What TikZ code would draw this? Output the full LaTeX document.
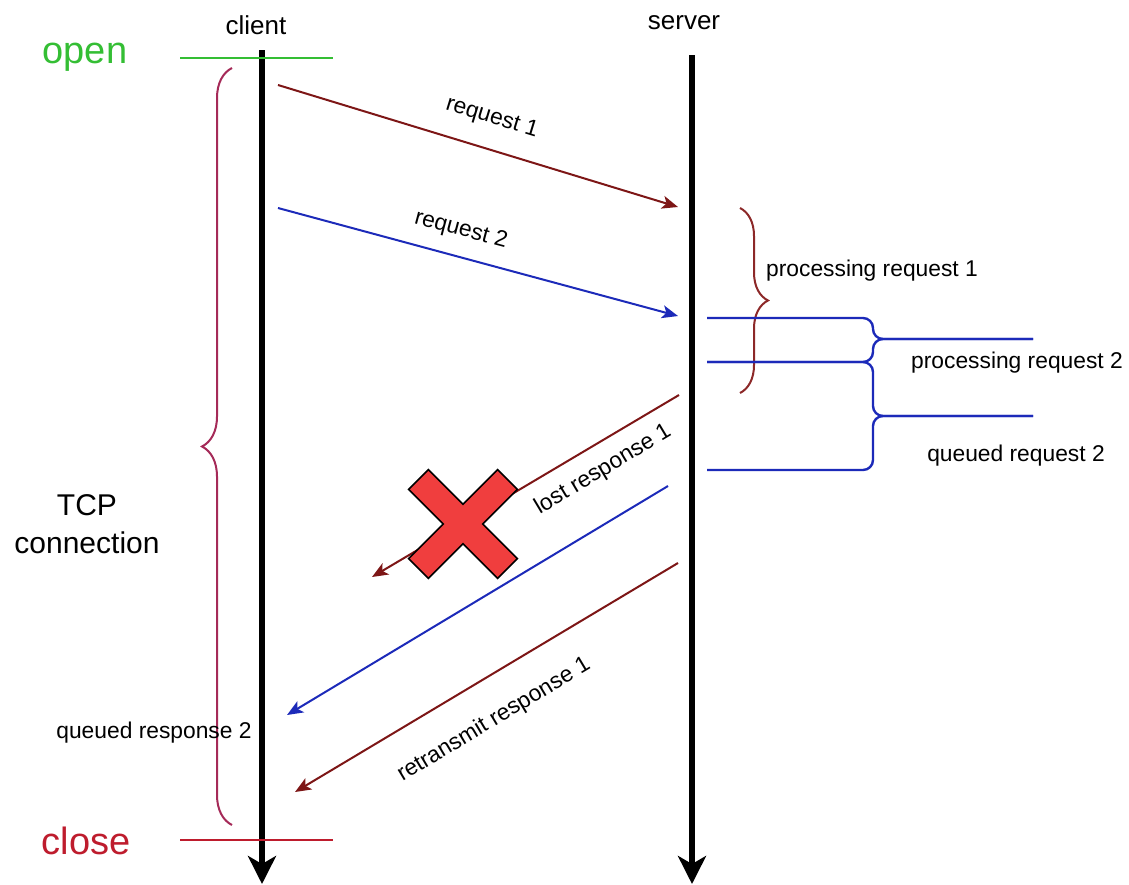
\documentclass[tikz,border=0pt]{standalone}
\usepackage{fontspec}
\setmainfont{Liberation Sans}
\usepackage{xcolor}
\usetikzlibrary{arrows.meta,decorations.pathreplacing}
\definecolor{msgred}{RGB}{125, 22, 22}
\definecolor{msgblue}{RGB}{28, 42, 185}
\definecolor{conncrimson}{RGB}{165, 42, 88}
\definecolor{procbrown}{RGB}{140, 40, 40}
\definecolor{opengreen}{RGB}{52, 190, 52}
\definecolor{closered}{RGB}{190, 28, 45}
\definecolor{lossred}{RGB}{240, 62, 62}

\begin{document}
\begin{tikzpicture}[x=0.5pt, y=-0.5pt,
    lifeline/.style={line width=3pt, -{Stealth[length=14pt, width=14pt, inset=4pt]}},
    title/.style={font=\fontsize{13}{15}\selectfont, inner sep=0pt},
    msglabel/.style={font=\fontsize{11.4}{13}\selectfont, inner sep=0pt},
    bigword/.style={font=\fontsize{19}{22}\selectfont, inner sep=0pt},
    request/.style={line width=1pt, -{Stealth[length=8pt, width=6.5pt, inset=2pt]}},
    limit/.style={line width=1.1pt},
    connbrace/.style={draw=conncrimson, line width=1pt, decorate, decoration={brace, amplitude=15pt}},
    procbrace/.style={draw=procbrown, line width=1pt, decorate, decoration={brace, amplitude=14pt}},
    queuebrace/.style={draw=msgblue, line width=1.2pt, rounded corners=5pt},
    lossx/.style={fill=lossred, draw=black, line width=0.8pt}
]
\useasboundingbox (0,0) rectangle (1129,884);

% Lifelines
\node[title] (client) at (256,25) {client};
\node[title] (server) at (684,23) {server};
\coordinate (ctop) at (262,50);
\coordinate (cbot) at (262,884);
\coordinate (stop) at (692,55);
\coordinate (sbot) at (692,884);
\draw[lifeline] (ctop) -- (cbot);
\draw[lifeline] (stop) -- (sbot);

% Connection open / close
\node[bigword, text=opengreen] (open) at (85,57) {open};
\node[bigword, text=closered] (close) at (86,841) {close};
\coordinate (openl) at (180,58);
\coordinate (openr) at (333,58);
\coordinate (closel) at (180,840);
\coordinate (closer) at (333,840);
\draw[limit, opengreen] (openl) -- (openr);
\draw[limit, closered] (closel) -- (closer);
\draw[connbrace] (232,825) -- (232,68);
\node[font=\fontsize{15}{19}\selectfont, align=center, inner sep=0pt] (tcp) at (87,524) {TCP\\connection};

% Requests
\coordinate (r1s) at (278,85);
\coordinate (r1e) at (678,207);
\coordinate (r2s) at (278,208);
\coordinate (r2e) at (678,316);
\draw[request, msgred] (r1s) -- (r1e);
\draw[request, msgblue] (r2s) -- (r2e);
\node[msglabel, rotate=-17] (r1lbl) at (492,118) {request 1};
\node[msglabel, rotate=-15] (r2lbl) at (461,230) {request 2};

% Server side
\draw[procbrace] (740,208) -- (740,393);
\node[msglabel] (proc1) at (872,271) {processing request 1};
\draw[queuebrace] (707,318) -- (873,318) -- (873,339) -- (1033,339);
\draw[queuebrace] (707,362) -- (873,362) -- (873,339) -- (1033,339);
\draw[queuebrace] (707,362) -- (873,362) -- (873,416) -- (1033,416);
\draw[queuebrace] (707,470) -- (873,470) -- (873,416) -- (1033,416);
\node[msglabel] (proc2) at (1017,363) {processing request 2};
\node[msglabel] (queue2) at (1016,456) {queued request 2};

% Responses
\coordinate (l1s) at (679,395);
\coordinate (l1e) at (372,577);
\coordinate (q2s) at (668,486);
\coordinate (q2e) at (287,715);
\coordinate (t1s) at (678,563);
\coordinate (t1e) at (295,792);
\draw[request, msgred] (l1s) -- (l1e);
\draw[request, msgblue] (q2s) -- (q2e);
\draw[request, msgred] (t1s) -- (t1e);
\node[msglabel, rotate=31] (l1lbl) at (603,470) {lost response 1};
\node[msglabel, rotate=31] (t1lbl) at (494,720) {retransmit response 1};
\node[msglabel] (q2lbl) at (154,733) {queued response 2};

% Lost packet mark
\begin{scope}[shift={(463,524)}, rotate=45]
\filldraw[lossx] (14,63) -- (14,14) -- (63,14) -- (63,-14) -- (14,-14) -- (14,-63)
    -- (-14,-63) -- (-14,-14) -- (-63,-14) -- (-63,14) -- (-14,14) -- (-14,63) -- cycle;
\end{scope}

\end{tikzpicture}
\end{document}
